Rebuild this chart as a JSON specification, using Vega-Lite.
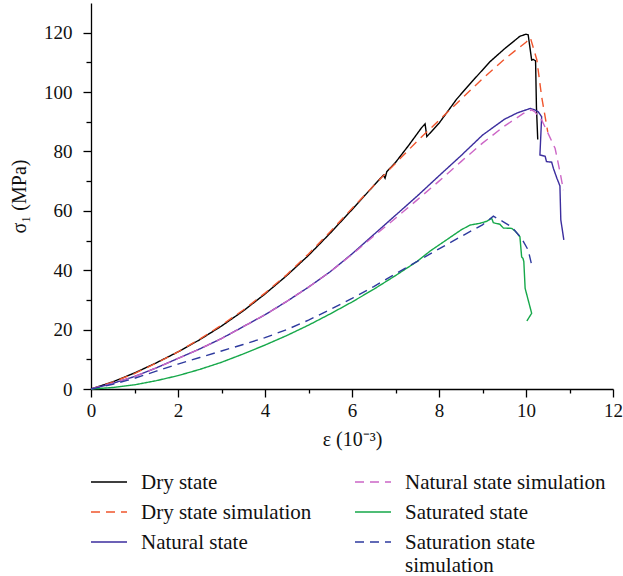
{
  "$schema": "https://vega.github.io/schema/vega-lite/v6.json",
  "width": 522,
  "height": 386,
  "autosize": {"type": "none"},
  "padding": {"left": 91, "top": 3, "right": 10, "bottom": 187},
  "background": "white",
  "config": {
    "view": {"stroke": null},
    "font": "Liberation Serif",
    "legend": {
      "orient": "none",
      "legendX": -1,
      "legendY": 460,
      "columns": 2,
      "symbolType": "stroke",
      "symbolSize": 1296,
      "symbolStrokeWidth": 1.5,
      "labelFont": "Liberation Serif",
      "labelFontSize": 21,
      "labelColor": "#111111",
      "labelOffset": 13,
      "columnPadding": 40,
      "rowPadding": -16,
      "labelLimit": 400,
      "labelBaseline": "alphabetic"
    }
  },
  "datasets": {
    "curves": [
      {"s": "Dry state", "e": 0, "v": 0},
      {"s": "Dry state", "e": 0.5, "v": 2.4},
      {"s": "Dry state", "e": 1, "v": 5.4},
      {"s": "Dry state", "e": 1.5, "v": 8.8},
      {"s": "Dry state", "e": 2, "v": 12.5},
      {"s": "Dry state", "e": 2.5, "v": 16.6},
      {"s": "Dry state", "e": 3, "v": 21.2},
      {"s": "Dry state", "e": 3.5, "v": 26.3},
      {"s": "Dry state", "e": 4, "v": 32},
      {"s": "Dry state", "e": 4.5, "v": 38.2},
      {"s": "Dry state", "e": 5, "v": 45},
      {"s": "Dry state", "e": 5.5, "v": 52.5},
      {"s": "Dry state", "e": 6, "v": 60.4},
      {"s": "Dry state", "e": 6.5, "v": 68.5},
      {"s": "Dry state", "e": 6.72, "v": 72},
      {"s": "Dry state", "e": 6.76, "v": 71},
      {"s": "Dry state", "e": 6.8, "v": 73.2},
      {"s": "Dry state", "e": 7, "v": 76.3},
      {"s": "Dry state", "e": 7.3, "v": 82},
      {"s": "Dry state", "e": 7.6, "v": 88},
      {"s": "Dry state", "e": 7.68, "v": 89.3},
      {"s": "Dry state", "e": 7.72, "v": 85},
      {"s": "Dry state", "e": 8, "v": 89.5},
      {"s": "Dry state", "e": 8.41, "v": 97.7},
      {"s": "Dry state", "e": 8.8, "v": 104.2},
      {"s": "Dry state", "e": 9.17, "v": 110.2},
      {"s": "Dry state", "e": 9.5, "v": 114.5},
      {"s": "Dry state", "e": 9.86, "v": 118.8},
      {"s": "Dry state", "e": 10, "v": 119.5},
      {"s": "Dry state", "e": 10.05, "v": 119.3},
      {"s": "Dry state", "e": 10.13, "v": 110.8},
      {"s": "Dry state", "e": 10.17, "v": 111},
      {"s": "Dry state", "e": 10.22, "v": 110.5},
      {"s": "Dry state", "e": 10.24, "v": 95},
      {"s": "Dry state", "e": 10.27, "v": 84},

      {"s": "Dry state simulation", "e": 0, "v": 0},
      {"s": "Dry state simulation", "e": 0.5, "v": 2.3},
      {"s": "Dry state simulation", "e": 1, "v": 5.2},
      {"s": "Dry state simulation", "e": 1.5, "v": 8.7},
      {"s": "Dry state simulation", "e": 2, "v": 12.5},
      {"s": "Dry state simulation", "e": 2.5, "v": 16.8},
      {"s": "Dry state simulation", "e": 3, "v": 21.5},
      {"s": "Dry state simulation", "e": 3.5, "v": 26.6},
      {"s": "Dry state simulation", "e": 4, "v": 32.3},
      {"s": "Dry state simulation", "e": 4.5, "v": 38.5},
      {"s": "Dry state simulation", "e": 5, "v": 45.5},
      {"s": "Dry state simulation", "e": 5.5, "v": 53},
      {"s": "Dry state simulation", "e": 6, "v": 60.8},
      {"s": "Dry state simulation", "e": 6.5, "v": 68.5},
      {"s": "Dry state simulation", "e": 7, "v": 76},
      {"s": "Dry state simulation", "e": 7.5, "v": 83.5},
      {"s": "Dry state simulation", "e": 8, "v": 90.5},
      {"s": "Dry state simulation", "e": 8.5, "v": 97.5},
      {"s": "Dry state simulation", "e": 9, "v": 104.5},
      {"s": "Dry state simulation", "e": 9.5, "v": 111},
      {"s": "Dry state simulation", "e": 9.8, "v": 114.5},
      {"s": "Dry state simulation", "e": 10, "v": 116.8},
      {"s": "Dry state simulation", "e": 10.1, "v": 118.3},
      {"s": "Dry state simulation", "e": 10.25, "v": 110.8},
      {"s": "Dry state simulation", "e": 10.36, "v": 98.4},
      {"s": "Dry state simulation", "e": 10.5, "v": 86.6},

      {"s": "Natural state", "e": 0, "v": 0},
      {"s": "Natural state", "e": 0.5, "v": 1.9},
      {"s": "Natural state", "e": 1, "v": 4.2},
      {"s": "Natural state", "e": 1.5, "v": 7.1},
      {"s": "Natural state", "e": 2, "v": 10.3},
      {"s": "Natural state", "e": 2.5, "v": 13.5},
      {"s": "Natural state", "e": 3, "v": 17},
      {"s": "Natural state", "e": 3.5, "v": 21},
      {"s": "Natural state", "e": 4, "v": 25},
      {"s": "Natural state", "e": 4.5, "v": 29.5},
      {"s": "Natural state", "e": 5, "v": 34.3},
      {"s": "Natural state", "e": 5.5, "v": 39.5},
      {"s": "Natural state", "e": 6, "v": 45.5},
      {"s": "Natural state", "e": 6.5, "v": 52},
      {"s": "Natural state", "e": 7, "v": 58.5},
      {"s": "Natural state", "e": 7.5, "v": 65},
      {"s": "Natural state", "e": 8, "v": 71.8},
      {"s": "Natural state", "e": 8.5, "v": 78.5},
      {"s": "Natural state", "e": 9, "v": 85.5},
      {"s": "Natural state", "e": 9.5, "v": 90.8},
      {"s": "Natural state", "e": 9.8, "v": 93},
      {"s": "Natural state", "e": 10.1, "v": 94.5},
      {"s": "Natural state", "e": 10.2, "v": 94},
      {"s": "Natural state", "e": 10.28, "v": 93.4},
      {"s": "Natural state", "e": 10.36, "v": 91.7},
      {"s": "Natural state", "e": 10.32, "v": 78.8},
      {"s": "Natural state", "e": 10.44, "v": 78.4},
      {"s": "Natural state", "e": 10.47, "v": 76.6},
      {"s": "Natural state", "e": 10.59, "v": 76.4},
      {"s": "Natural state", "e": 10.63, "v": 74.3},
      {"s": "Natural state", "e": 10.71, "v": 71},
      {"s": "Natural state", "e": 10.78, "v": 68.4},
      {"s": "Natural state", "e": 10.8, "v": 57},
      {"s": "Natural state", "e": 10.87, "v": 50.2},

      {"s": "Natural state simulation", "e": 0, "v": 0},
      {"s": "Natural state simulation", "e": 0.5, "v": 1.9},
      {"s": "Natural state simulation", "e": 1, "v": 4.2},
      {"s": "Natural state simulation", "e": 1.5, "v": 7.1},
      {"s": "Natural state simulation", "e": 2, "v": 10.3},
      {"s": "Natural state simulation", "e": 2.5, "v": 13.5},
      {"s": "Natural state simulation", "e": 3, "v": 17},
      {"s": "Natural state simulation", "e": 3.5, "v": 21},
      {"s": "Natural state simulation", "e": 4, "v": 25},
      {"s": "Natural state simulation", "e": 4.5, "v": 29.5},
      {"s": "Natural state simulation", "e": 5, "v": 34.3},
      {"s": "Natural state simulation", "e": 5.5, "v": 39.5},
      {"s": "Natural state simulation", "e": 6, "v": 45.3},
      {"s": "Natural state simulation", "e": 6.5, "v": 51.5},
      {"s": "Natural state simulation", "e": 7, "v": 57.5},
      {"s": "Natural state simulation", "e": 7.5, "v": 63.7},
      {"s": "Natural state simulation", "e": 8, "v": 70},
      {"s": "Natural state simulation", "e": 8.5, "v": 76.5},
      {"s": "Natural state simulation", "e": 9, "v": 82.8},
      {"s": "Natural state simulation", "e": 9.5, "v": 88.5},
      {"s": "Natural state simulation", "e": 9.94, "v": 92.8},
      {"s": "Natural state simulation", "e": 10.13, "v": 94},
      {"s": "Natural state simulation", "e": 10.2, "v": 93.4},
      {"s": "Natural state simulation", "e": 10.36, "v": 90.6},
      {"s": "Natural state simulation", "e": 10.51, "v": 86},
      {"s": "Natural state simulation", "e": 10.67, "v": 81},
      {"s": "Natural state simulation", "e": 10.78, "v": 73.2},
      {"s": "Natural state simulation", "e": 10.86, "v": 67},

      {"s": "Saturated state", "e": 0, "v": 0},
      {"s": "Saturated state", "e": 0.5, "v": 0.5},
      {"s": "Saturated state", "e": 1, "v": 1.4},
      {"s": "Saturated state", "e": 1.5, "v": 2.8},
      {"s": "Saturated state", "e": 2, "v": 4.5},
      {"s": "Saturated state", "e": 2.5, "v": 6.6},
      {"s": "Saturated state", "e": 3, "v": 9},
      {"s": "Saturated state", "e": 3.5, "v": 11.8},
      {"s": "Saturated state", "e": 4, "v": 14.8},
      {"s": "Saturated state", "e": 4.5, "v": 18},
      {"s": "Saturated state", "e": 5, "v": 21.5},
      {"s": "Saturated state", "e": 5.5, "v": 25.3},
      {"s": "Saturated state", "e": 6, "v": 29.3},
      {"s": "Saturated state", "e": 6.5, "v": 33.6},
      {"s": "Saturated state", "e": 7, "v": 38.2},
      {"s": "Saturated state", "e": 7.5, "v": 43},
      {"s": "Saturated state", "e": 7.8, "v": 46.5},
      {"s": "Saturated state", "e": 8, "v": 48.5},
      {"s": "Saturated state", "e": 8.3, "v": 51.5},
      {"s": "Saturated state", "e": 8.5, "v": 53.5},
      {"s": "Saturated state", "e": 8.71, "v": 55.2},
      {"s": "Saturated state", "e": 8.94, "v": 55.8},
      {"s": "Saturated state", "e": 9.1, "v": 56.5},
      {"s": "Saturated state", "e": 9.21, "v": 57.5},
      {"s": "Saturated state", "e": 9.25, "v": 56},
      {"s": "Saturated state", "e": 9.3, "v": 55.8},
      {"s": "Saturated state", "e": 9.4, "v": 55.5},
      {"s": "Saturated state", "e": 9.48, "v": 54.2},
      {"s": "Saturated state", "e": 9.67, "v": 54.1},
      {"s": "Saturated state", "e": 9.75, "v": 53.2},
      {"s": "Saturated state", "e": 9.86, "v": 51.3},
      {"s": "Saturated state", "e": 9.9, "v": 44.5},
      {"s": "Saturated state", "e": 9.93, "v": 44},
      {"s": "Saturated state", "e": 9.95, "v": 42.9},
      {"s": "Saturated state", "e": 9.98, "v": 33.9},
      {"s": "Saturated state", "e": 10.13, "v": 25.5},
      {"s": "Saturated state", "e": 10.02, "v": 22.9},

      {"s": "Saturation state simulation", "e": 0, "v": 0},
      {"s": "Saturation state simulation", "e": 0.5, "v": 1.6},
      {"s": "Saturation state simulation", "e": 1, "v": 3.6},
      {"s": "Saturation state simulation", "e": 1.5, "v": 6},
      {"s": "Saturation state simulation", "e": 2, "v": 8.4},
      {"s": "Saturation state simulation", "e": 2.5, "v": 10.6},
      {"s": "Saturation state simulation", "e": 3, "v": 12.8},
      {"s": "Saturation state simulation", "e": 3.5, "v": 15},
      {"s": "Saturation state simulation", "e": 4, "v": 17.3},
      {"s": "Saturation state simulation", "e": 4.5, "v": 20},
      {"s": "Saturation state simulation", "e": 5, "v": 23.2},
      {"s": "Saturation state simulation", "e": 5.5, "v": 26.8},
      {"s": "Saturation state simulation", "e": 6, "v": 30.5},
      {"s": "Saturation state simulation", "e": 6.5, "v": 34.5},
      {"s": "Saturation state simulation", "e": 7, "v": 38.8},
      {"s": "Saturation state simulation", "e": 7.5, "v": 43},
      {"s": "Saturation state simulation", "e": 8, "v": 47.2},
      {"s": "Saturation state simulation", "e": 8.5, "v": 51.3},
      {"s": "Saturation state simulation", "e": 9, "v": 55.3},
      {"s": "Saturation state simulation", "e": 9.25, "v": 58.2},
      {"s": "Saturation state simulation", "e": 9.48, "v": 56.3},
      {"s": "Saturation state simulation", "e": 9.67, "v": 54.6},
      {"s": "Saturation state simulation", "e": 9.9, "v": 50.7},
      {"s": "Saturation state simulation", "e": 10.05, "v": 46.8},
      {"s": "Saturation state simulation", "e": 10.13, "v": 41.8}
    ]
  },
  "data": {"name": "curves"},
  "mark": {"type": "line", "strokeWidth": 1.4},
  "encoding": {
    "x": {
      "field": "e",
      "type": "quantitative",
      "scale": {"domain": [0, 12], "nice": false},
      "axis": {
        "title": "ε (10⁻³)",
        "values": [0, 1, 2, 3, 4, 5, 6, 7, 8, 9, 10, 11, 12],
        "labelExpr": "datum.value % 2 === 0 ? datum.label : ''",
        "tickSize": {"expr": "datum.value % 2 === 0 ? 8 : 4"},
        "grid": false,
        "domainColor": "#000000",
        "tickColor": "#000000",
        "domainWidth": 1.3,
        "tickWidth": 1.3,
        "labelFontSize": 19,
        "labelColor": "#111111",
        "labelFont": "Liberation Serif",
        "labelPadding": 4,
        "labelFlush": false,
        "labelOverlap": false,
        "titleFont": "Liberation Serif",
        "titleFontSize": 20,
        "titleFontWeight": "normal",
        "titleColor": "#111111",
        "titlePadding": 9
      }
    },
    "y": {
      "field": "v",
      "type": "quantitative",
      "scale": {"domain": [0, 130], "nice": false},
      "axis": {
        "title": "σ₁ (MPa)",
        "values": [0, 10, 20, 30, 40, 50, 60, 70, 80, 90, 100, 110, 120],
        "labelExpr": "datum.value % 20 === 0 ? datum.label : ''",
        "tickSize": {"expr": "datum.value % 20 === 0 ? 8 : 5"},
        "grid": false,
        "domainColor": "#000000",
        "tickColor": "#000000",
        "domainWidth": 1.3,
        "tickWidth": 1.3,
        "labelFontSize": 19,
        "labelColor": "#111111",
        "labelFont": "Liberation Serif",
        "labelPadding": 11,
        "labelFlush": false,
        "labelOverlap": false,
        "titleFont": "Liberation Serif",
        "titleFontSize": 20,
        "titleFontWeight": "normal",
        "titleColor": "#111111",
        "titlePadding": 14
      }
    },
    "color": {
      "field": "s",
      "type": "nominal",
      "scale": {
        "domain": ["Dry state", "Dry state simulation", "Natural state", "Natural state simulation", "Saturated state", "Saturation state simulation"],
        "range": ["#000000", "#F0552D", "#3C2E9E", "#CC66C6", "#16A84A", "#2E3A9E"]
      },
      "legend": {
        "title": null,
        "labelExpr": "datum.label == 'Saturation state simulation' ? ['Saturation state', 'simulation'] : datum.label",
        "encode": {"labels": {"update": {"dy": {"value": 7}}}}
      }
    },
    "strokeDash": {
      "field": "s",
      "type": "nominal",
      "scale": {
        "domain": ["Dry state", "Dry state simulation", "Natural state", "Natural state simulation", "Saturated state", "Saturation state simulation"],
        "range": [[1, 0], [9, 6], [1, 0], [9, 6], [1, 0], [9, 6]]
      },
      "legend": {
        "title": null,
        "labelExpr": "datum.label == 'Saturation state simulation' ? ['Saturation state', 'simulation'] : datum.label",
        "encode": {"labels": {"update": {"dy": {"value": 7}}}}
      }
    },
    "order": {"value": null}
  }
}
